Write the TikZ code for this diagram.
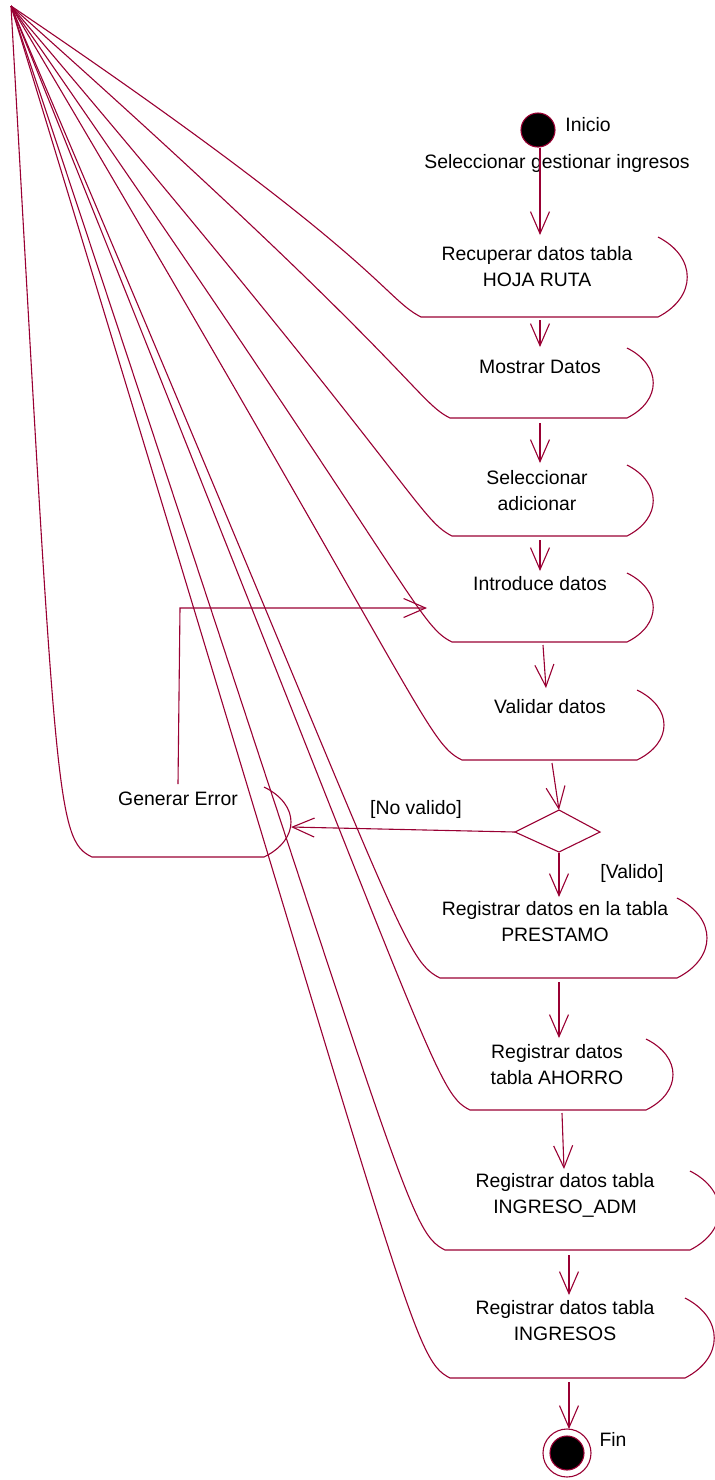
\documentclass[tikz,border=0pt]{standalone}
\usepackage{fontspec}
\setmainfont{Liberation Sans}
\usetikzlibrary{arrows.meta}
\definecolor{lc}{RGB}{153,0,51}
\begin{document}
\begin{tikzpicture}[x=0.5pt,y=-0.5pt,
  line/.style={draw=lc, line width=0.55pt},
  flow/.style={line, -{Straight Barb[length=11pt,width=9.5pt]}},
  lbl/.style={inner sep=0pt, font=\fontsize{9.7}{13}\selectfont, align=center, text=black}]
\useasboundingbox (0,0) rectangle (715,1480);
\coordinate (apex) at (11,6);

% ---------- activity shapes (left side of each runs to the apex) ----------
\draw[line] (658,237) .. controls (697,257) and (697,297) .. (658,317) -- (421,317) .. controls (382,297) and (382,257) .. (apex);
\draw[line] (627,348) .. controls (662,365.5) and (662,400.5) .. (627,418) -- (450,418) .. controls (415,400.5) and (415,365.5) .. (apex);
\draw[line] (627,465) .. controls (662,482.75) and (662,518.25) .. (627,536) -- (452,536) .. controls (417,518.25) and (417,482.75) .. (apex);
\draw[line] (627,573) .. controls (662,590.25) and (662,624.75) .. (627,642) -- (452,642) .. controls (417,624.75) and (417,590.25) .. (apex);
\draw[line] (637,690) .. controls (673,707.5) and (673,742.5) .. (637,760) -- (462,760) .. controls (426,742.5) and (426,707.5) .. (apex);
\draw[line] (264,787) .. controls (300,804.5) and (300,839.5) .. (264,857) -- (92,857) .. controls (56,839.5) and (56,804.5) .. (apex);
\draw[line] (677,898) .. controls (717,918) and (717,958) .. (677,978) -- (440,978) .. controls (400,958) and (400,918) .. (apex);
\draw[line] (646,1039) .. controls (682,1056.75) and (682,1092.25) .. (646,1110) -- (470,1110) .. controls (434,1092.25) and (434,1056.75) .. (apex);
\draw[line] (690,1171) .. controls (729,1190.75) and (729,1230.25) .. (690,1250) -- (445,1250) .. controls (406,1230.25) and (406,1190.75) .. (apex);
\draw[line] (685,1298) .. controls (724,1318) and (724,1358) .. (685,1378) -- (450,1378) .. controls (411,1358) and (411,1318) .. (apex);

% ---------- labels ----------
\node[lbl] (t0) at (588,125) {Inicio};
\node[lbl] (t0b) at (557,163) {Seleccionar gestionar ingresos};
\node[lbl] (t1) at (537,267) {Recuperar datos tabla\\HOJA RUTA};
\node[lbl] (t2) at (540,367) {Mostrar Datos};
\node[lbl] (t3) at (537,490.5) {Seleccionar\\adicionar};
\node[lbl] (t4) at (540,584) {Introduce datos};
\node[lbl] (t5) at (550,707) {Validar datos};
\node[lbl] (tge) at (178,799) {Generar Error};
\node[lbl] (tno) at (416,809) {[No valido]};
\node[lbl] (tsi) at (632,873) {[Valido]};
\node[lbl] (t6) at (555,922) {Registrar datos en la tabla\\PRESTAMO};
\node[lbl] (t7) at (557,1064.5) {Registrar datos\\tabla AHORRO};
\node[lbl] (t8) at (565,1195.5) {Registrar datos tabla\\INGRESO\_ADM};
\node[lbl] (t9) at (565,1320.5) {Registrar datos tabla\\INGRESOS};
\node[lbl] (tfin) at (613,1439) {Fin};

% ---------- start / end / decision ----------
\draw[line, fill=black] (538,130) circle[radius=17];
\draw[line] (567,1453) circle[radius=24];
\draw[line, fill=black] (567,1453) circle[radius=17];
\draw[line] (559,810) -- (600,832) -- (559,852) -- (515,832) -- cycle;

% ---------- connector end points ----------
\coordinate (s1) at (540,148);   \coordinate (e1) at (540,235);
\coordinate (s2) at (540,320);   \coordinate (e2) at (540,347);
\coordinate (s3) at (540,423);   \coordinate (e3) at (540,463);
\coordinate (s4) at (540,540);   \coordinate (e4) at (540,571);
\coordinate (s5) at (543,645);   \coordinate (e5) at (546,688);
\coordinate (s6) at (552,763);   \coordinate (e6) at (559,810);
\coordinate (s7) at (559,853);   \coordinate (e7) at (559,897);
\coordinate (s8) at (559,982);   \coordinate (e8) at (559,1038);
\coordinate (s9) at (562,1113);  \coordinate (e9) at (564,1169);
\coordinate (s10) at (569,1255); \coordinate (e10) at (569,1295);
\coordinate (s11) at (569,1382); \coordinate (e11) at (569,1429);
\coordinate (dl) at (515,832);   \coordinate (gein) at (291,827);
\coordinate (geout) at (178,784); \coordinate (bend) at (180,608);
\coordinate (inin) at (427,608);

% ---------- connectors ----------
\foreach \i in {1,...,11} \draw[flow] (s\i) -- (e\i);
\draw[flow] (dl) -- (gein);
\draw[flow] (geout) -- (bend) -- (inin);
\end{tikzpicture}
\end{document}
